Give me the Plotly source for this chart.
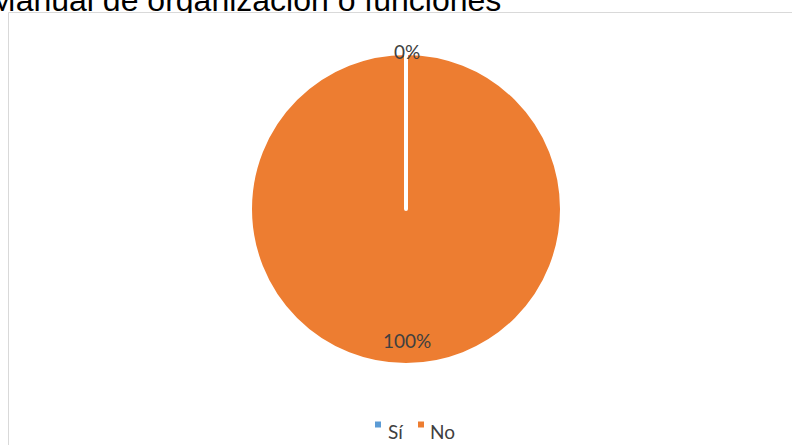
import plotly.graph_objects as go

# ---- data ----
title_text = "Manual de organización o funciones"
categories = ["Sí", "No"]
values = [0, 100]
colors = ["#5B9BD5", "#ED7D31"]

W, H = 792, 445
total = sum(values)
pct = [f"{v / total * 100:.0f}%" for v in values]

def px(x):
    return x / W

def py(y):
    return 1 - y / H

cx, cy, r = 406, 209, 156

fig = go.Figure()

# pie (reverse order so the zero slice's white edge is drawn on top)
fig.add_trace(go.Pie(
    labels=categories[::-1],
    values=values[::-1],
    marker=dict(colors=colors[::-1], line=dict(color="white", width=4)),
    sort=False,
    direction="clockwise",
    rotation=0,
    textinfo="none",
    hoverinfo="skip",
    showlegend=False,
    domain=dict(x=[px(cx - r), px(cx + r)], y=[py(cy + r), py(cy - r)]),
))

# legend (markers drawn on a hidden pixel-scaled axis)
legend_x = [378, 421]
legend_text_x = [386, 428]
fig.add_trace(go.Scatter(
    x=legend_x, y=[424.5, 424.5], mode="markers",
    marker=dict(symbol="square", size=6, color=colors),
    hoverinfo="skip", showlegend=False,
))

annotations = [
    dict(text=title_text, x=px(-13), y=py(20), xref="paper", yref="paper",
         xanchor="left", yanchor="bottom", showarrow=False,
         font=dict(family="Liberation Sans", size=32, color="black")),
    dict(text=" ", x=px(9), y=py(13), xref="paper", yref="paper",
         xanchor="left", yanchor="top", showarrow=False,
         width=800, height=14, bgcolor="white", borderpad=0, borderwidth=0),
    dict(text=pct[0], x=px(407), y=py(51), xref="paper", yref="paper",
         xanchor="center", yanchor="middle", showarrow=False,
         font=dict(family="Lato", size=19, color="#404040")),
    dict(text=pct[1], x=px(407), y=py(340), xref="paper", yref="paper",
         xanchor="center", yanchor="middle", showarrow=False,
         font=dict(family="Lato", size=19, color="#404040")),
]
for name, tx in zip(categories, legend_text_x):
    annotations.append(dict(
        text=name, x=px(tx), y=py(431), xref="paper", yref="paper",
        xanchor="left", yanchor="middle", showarrow=False,
        font=dict(family="Lato", size=19, color="#404040")))

fig.update_layout(
    width=W, height=H,
    margin=dict(l=0, r=0, t=0, b=0),
    paper_bgcolor="white", plot_bgcolor="white",
    xaxis=dict(visible=False, range=[0, W], domain=[0, 1], fixedrange=True),
    yaxis=dict(visible=False, range=[H, 0], domain=[0, 1], fixedrange=True),
    annotations=annotations,
    shapes=[dict(type="rect", xref="paper", yref="paper",
                 x0=px(8.5), x1=px(W + 10), y0=py(H + 10), y1=py(12.5),
                 line=dict(color="#d9d9d9", width=1), layer="below")],
    showlegend=False,
)

fig.write_html("out.html",
               config={"displayModeBar": False},
               post_script="document.body.style.margin='0';document.body.style.overflow='hidden';")
